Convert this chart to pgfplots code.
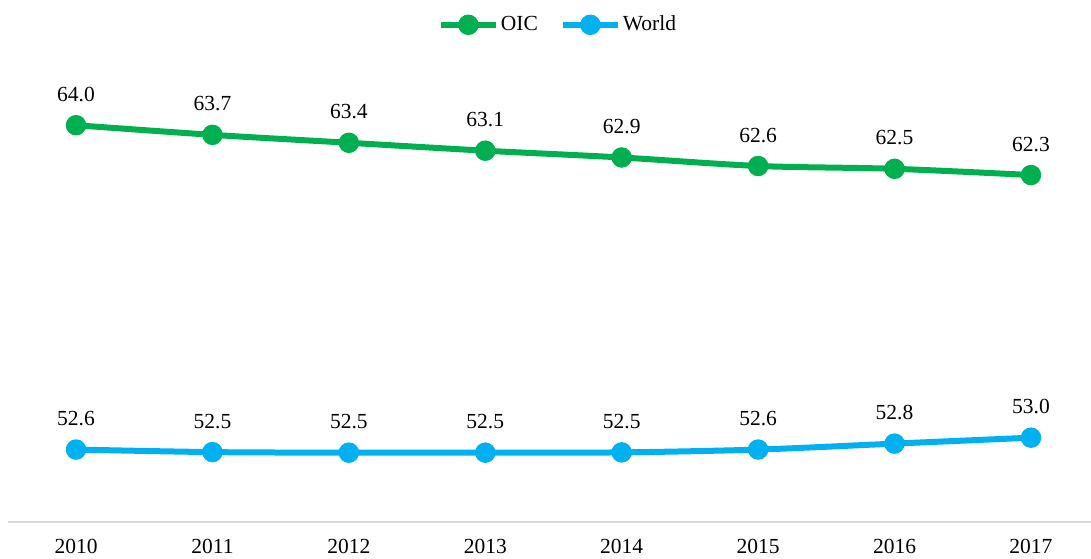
\documentclass[border=0pt]{standalone}
\usepackage{fontspec}
\setmainfont{Liberation Serif}
\usepackage{pgfplots}
\pgfplotsset{compat=1.18}
\definecolor{oic}{HTML}{00B050}
\definecolor{wld}{HTML}{00B0F0}
\definecolor{axgray}{HTML}{D9D9D9}
\begin{document}
\begin{tikzpicture}[font=\fontsize{10.75}{13}\selectfont]
\useasboundingbox (-4.25pt,-18pt) rectangle (541.25pt,261pt);
\begin{axis}[
  at={(0pt,0pt)}, anchor=south west, scale only axis,
  width=541.25pt, height=226.4pt,
  xmin=-0.495, xmax=7.44, ymin=50, ymax=66,
  axis x line=bottom, axis y line=none,
  x axis line style={-, draw=axgray, line width=1pt},
  xtick={0,1,2,3,4,5,6,7},
  xticklabels={2010,2011,2012,2013,2014,2015,2016,2017},
  major tick length=0pt, ytick=\empty,
  x tick label style={yshift=-5pt},
  clip=false,
  nodes near coords,
  /pgf/number format/.cd, fixed, fixed zerofill, precision=1, assume math mode=true, /pgfplots/.cd,
  every node near coord/.append style={anchor=south, yshift=7pt, text=black},
  legend style={at={(0.5076,1.098)}, anchor=center, draw=none, fill=none,
    legend columns=2, /tikz/every even column/.append style={column sep=10pt},
    nodes={inner sep=1pt}},
  legend image code/.code={\draw[mark repeat=2,mark phase=2,#1] plot coordinates {(0pt,0pt) (13.75pt,0pt) (27.5pt,0pt)};},
]
\addplot[color=oic, line width=3pt, smooth, mark=*, mark size=3.6pt, mark options={draw=none, fill=oic}]
  coordinates {(0,64.02) (1,63.68) (2,63.40) (3,63.12) (4,62.88) (5,62.58) (6,62.48) (7,62.26)};
\addlegendentry{OIC}
\addplot[color=wld, line width=3pt, smooth, mark=*, mark size=3.6pt, mark options={draw=none, fill=wld}]
  coordinates {(0,52.56) (1,52.47) (2,52.45) (3,52.45) (4,52.46) (5,52.56) (6,52.77) (7,52.98)};
\addlegendentry{World}
\end{axis}
\end{tikzpicture}
\end{document}
